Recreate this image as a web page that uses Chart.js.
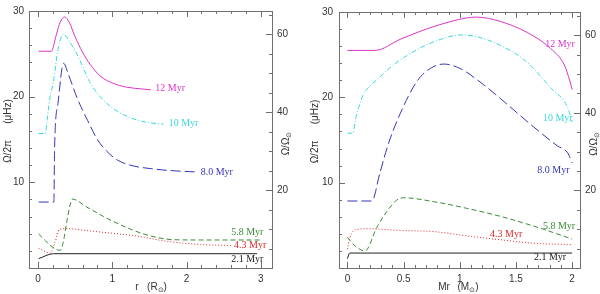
<!DOCTYPE html>
<html>
<head>
<meta charset="utf-8">
<script src="https://cdn.jsdelivr.net/npm/chart.js@4.4.1/dist/chart.umd.min.js"></script>
<style>
html, body { margin: 0; padding: 0; background: #fff; }
#wrap { position: relative; width: 600px; height: 294px; }
.panel { position: absolute; top: 0; width: 300px; height: 294px; }
</style>
</head>
<body>
<div id="wrap">
  <div class="panel" style="left:0"><canvas id="left"></canvas></div>
  <div class="panel" style="left:300px"><canvas id="right"></canvas></div>
</div>
<script>
// ages and curve styles
const ages = ['12 Myr', '10 Myr', '8.0 Myr', '5.8 Myr', '4.3 Myr', '2.1 Myr'];
const ageColors = ['#d936c8', '#3ad8dc', '#3434b8', '#3a8a3a', '#dc2a2a', '#222222'];
const ageDash = [[], [5, 2, 1, 2], [10, 4], [5, 3], [1, 2], []];

// left panel: Omega/2pi (microHz) vs r (Rsun)
const r12  = [0.01, 0.18, 0.25, 0.30, 0.36, 0.42, 0.50, 0.60, 0.70, 0.84, 1.00, 1.20, 1.40, 1.52];
const wr12 = [25.3, 25.3, 27.3, 28.7, 29.3, 28.7, 27.0, 25.2, 23.8, 22.4, 21.6, 21.1, 20.9, 20.8];
const r10  = [0.01, 0.10, 0.12, 0.16, 0.21, 0.27, 0.345, 0.42, 0.53, 0.71, 0.93, 1.20, 1.47, 1.69];
const wr10 = [15.7, 15.7, 17.0, 19.8, 21.8, 25.5, 27.3, 26.5, 24.9, 21.5, 19.2, 17.7, 17.0, 16.8];
const r8   = [0.01, 0.19, 0.215, 0.224, 0.27, 0.345, 0.41, 0.53, 0.67, 0.80, 0.93, 1.07, 1.29, 1.52, 1.74, 2.15];
const wr8  = [7.7, 7.7, 7.7, 13.9, 19.2, 23.9, 22.6, 19.8, 17.2, 15.0, 13.6, 12.6, 11.9, 11.6, 11.4, 11.2];
const r58  = [0.01, 0.10, 0.166, 0.30, 0.345, 0.39, 0.44, 0.46, 0.66, 0.93, 1.20, 1.47, 1.83, 2.19, 3.0];
const wr58 = [3.97, 3.2, 2.63, 2.06, 3.2, 5.5, 7.6, 8.05, 7.1, 5.8, 4.7, 3.85, 3.3, 3.27, 3.27];
const r43  = [0.01, 0.166, 0.23, 0.29, 0.39, 0.62, 0.84, 1.29, 1.74, 2.19, 2.6];
const wr43 = [2.3, 1.75, 3.0, 4.5, 4.6, 4.4, 4.2, 3.77, 3.12, 2.74, 2.63];
const r21  = [0.01, 0.21, 2.95];
const wr21 = [1.1, 1.67, 1.67];

// right panel: Omega/2pi (microHz) vs Mr (Msun)
const m12  = [0, 0.246, 0.47, 0.77, 1.06, 1.15, 1.36, 1.60, 1.81, 1.93, 1.98, 2.0];
const wm12 = [25.5, 25.5, 26.8, 28.3, 29.3, 29.4, 28.9, 27.6, 25.7, 23.8, 21.9, 20.9];
const m10  = [0, 0.05, 0.07, 0.10, 0.14, 0.20, 0.29, 0.41, 0.62, 0.83, 1.00, 1.12, 1.36, 1.60, 1.81, 1.96, 2.0];
const wm10 = [15.8, 15.8, 17.3, 18.8, 20.3, 21.3, 22.4, 23.8, 25.6, 26.8, 27.3, 27.2, 26.1, 24.1, 21.1, 18.8, 17.1];
const m8   = [0, 0.217, 0.29, 0.366, 0.47, 0.62, 0.74, 0.86, 1.00, 1.21, 1.42, 1.66, 1.87, 1.96, 2.0];
const wm8  = [7.85, 7.85, 11.2, 14.6, 18.1, 21.9, 23.4, 23.9, 23.4, 21.5, 19.2, 16.5, 14.3, 13.5, 12.3];
const m58  = [0, 0.05, 0.157, 0.26, 0.35, 0.44, 0.50, 0.77, 1.06, 1.36, 1.66, 2.0];
const wm58 = [3.6, 2.8, 2.0, 4.72, 6.6, 7.97, 8.23, 7.77, 7.0, 6.06, 4.9, 3.4];
const m43  = [0, 0.02, 0.05, 0.10, 0.17, 0.47, 0.77, 1.06, 1.36, 1.66, 2.0];
const wm43 = [2.2, 3.5, 4.3, 4.55, 4.6, 4.4, 4.26, 3.77, 3.31, 2.9, 2.74];
const m21  = [0, 0.02, 2.0];
const wm21 = [1.1, 1.75, 1.75];

// where the age labels sit (data units)
const labRx = [1.58, 1.76, 2.19, 2.60, 2.64, 2.60];
const labRy = [21.0, 16.9, 11.2, 4.15, 2.63, 1.03];
const labMx = [1.76, 1.74, 1.69, 1.74, 1.27, 1.66];
const labMy = [26.2, 17.5, 11.4, 4.83, 3.97, 1.22];

// ticks
const xTicksR = [0, 1, 2, 3];
const xTicksM = [0, 0.5, 1, 1.5, 2];
const yTicks = [10, 20, 30];
const y2Ticks = [20, 40, 60];

const SANS = '"Liberation Sans", Arial, sans-serif';
const SERIF = '"Liberation Serif", "Times New Roman", serif';

function pts(xs, ys) {
  return xs.map((x, i) => ({ x: x, y: ys[i] }));
}

function makeSets(curves) {
  return curves.map((c, i) => ({
    label: ages[i],
    data: pts(c[0], c[1]),
    showLine: true,
    borderColor: ageColors[i],
    borderWidth: 1,
    borderDash: ageDash[i],
    pointRadius: 0,
    cubicInterpolationMode: 'monotone',
    fill: false
  }));
}

// frame with inward ticks on all four sides
const framePlugin = {
  id: 'frame',
  afterDatasetsDraw(chart, args, o) {
    const ctx = chart.ctx, a = chart.chartArea;
    const sx = chart.scales.x, sy = chart.scales.y, s2 = chart.scales.y2;
    ctx.save();
    ctx.strokeStyle = '#707070';
    ctx.lineWidth = 1;
    ctx.strokeRect(Math.round(a.left) + 0.5, Math.round(a.top) + 0.5,
      Math.round(a.right - a.left), Math.round(a.bottom - a.top));
    ctx.beginPath();
    const each = (sc, step, major, fn) => {
      const k0 = Math.ceil(sc.min / step - 1e-6), k1 = Math.floor(sc.max / step + 1e-6);
      for (let k = k0; k <= k1; k++) {
        const v = k * step;
        const isMajor = Math.abs(v / major - Math.round(v / major)) < 1e-6;
        fn(sc.getPixelForValue(v), isMajor ? 6 : 3);
      }
    };
    each(sx, o.xMinor, o.xMajor, (p, len) => {
      p = Math.round(p) + 0.5;
      ctx.moveTo(p, a.bottom); ctx.lineTo(p, a.bottom - len);
      ctx.moveTo(p, a.top); ctx.lineTo(p, a.top + len);
    });
    each(sy, 2, 10, (p, len) => {
      p = Math.round(p) + 0.5;
      ctx.moveTo(a.left, p); ctx.lineTo(a.left + len, p);
    });
    each(s2, 5, 20, (p, len) => {
      p = Math.round(p) + 0.5;
      ctx.moveTo(a.right, p); ctx.lineTo(a.right - len, p);
    });
    ctx.stroke();
    ctx.restore();
  }
};

// age labels next to the curves
const agePlugin = {
  id: 'ageLabels',
  afterDatasetsDraw(chart, args, o) {
    const ctx = chart.ctx;
    ctx.save();
    ctx.font = '10px ' + SERIF;
    ctx.textBaseline = 'middle';
    ctx.textAlign = 'left';
    ages.forEach((t, i) => {
      ctx.fillStyle = ageColors[i];
      ctx.fillText(t, chart.scales.x.getPixelForValue(o.xs[i]), chart.scales.y.getPixelForValue(o.ys[i]));
    });
    ctx.restore();
  }
};

// text made of pieces, some of them subscripts (for the sun symbol)
function drawParts(ctx, parts, cx, cy, rot) {
  ctx.save();
  ctx.translate(cx, cy);
  ctx.rotate(rot);
  ctx.fillStyle = '#333';
  ctx.textBaseline = 'middle';
  ctx.textAlign = 'left';
  let w = 0;
  parts.forEach(p => {
    ctx.font = (p.sub ? '7px ' : '10px ') + SANS;
    w += ctx.measureText(p.t).width;
  });
  let x = -w / 2;
  parts.forEach(p => {
    ctx.font = (p.sub ? '7px ' : '10px ') + SANS;
    ctx.fillText(p.t, x, p.sub ? 3 : 0);
    x += ctx.measureText(p.t).width;
  });
  ctx.restore();
}

const titlePlugin = {
  id: 'axisTitles',
  afterDraw(chart, args, o) {
    const ctx = chart.ctx, a = chart.chartArea;
    const cy = (a.top + a.bottom) / 2;
    // left: Omega/2pi  (muHz)
    drawParts(ctx, [{ t: 'Ω/2π' }], a.left - o.leftOff, cy + 12, -Math.PI / 2);
    drawParts(ctx, [{ t: '(μHz)' }], a.left - o.leftOff, cy - 28, -Math.PI / 2);
    // right: Omega/Omega_sun
    drawParts(ctx, [{ t: 'Ω/Ω' }, { t: '⊙', sub: true }], a.right + o.rightOff, cy + 4, -Math.PI / 2);
    // bottom
    drawParts(ctx, [{ t: o.xName }], o.xNameAt, 287, 0);
    drawParts(ctx, [{ t: '(' + o.xUnit }, { t: '⊙', sub: true }, { t: ')' }], o.xUnitAt, 287, 0);
  }
};

function makeChart(id, curves, labX, labY, xMin, xMax, xTicks, xMinor, xMajor, widths, titles) {
  const tickFont = { family: SANS, size: 10 };
  return new Chart(document.getElementById(id), {
    type: 'scatter',
    data: { datasets: makeSets(curves) },
    options: {
      responsive: true,
      maintainAspectRatio: false,
      animation: false,
      layout: { padding: { top: 6, left: 0, right: 0, bottom: 0 } },
      plugins: {
        legend: { display: false },
        tooltip: { enabled: false },
        frame: { xMinor: xMinor, xMajor: xMajor },
        ageLabels: { xs: labX, ys: labY },
        axisTitles: titles
      },
      scales: {
        x: {
          type: 'linear',
          min: xMin,
          max: xMax,
          grid: { display: false, drawTicks: false },
          border: { display: false },
          afterBuildTicks: s => { s.ticks = xTicks.map(v => ({ value: v })); },
          afterFit: s => { s.height = 26; },
          ticks: { font: tickFont, color: '#333', padding: 5, maxRotation: 0, callback: v => String(v) }
        },
        y: {
          type: 'linear',
          position: 'left',
          min: 0,
          max: 30,
          grid: { display: false, drawTicks: false },
          border: { display: false },
          afterBuildTicks: s => { s.ticks = yTicks.map(v => ({ value: v })); },
          afterFit: s => { s.width = widths[0]; },
          ticks: { font: tickFont, color: '#333', padding: widths[2], callback: v => String(v) }
        },
        y2: {
          type: 'linear',
          position: 'right',
          min: 0,
          max: 66,
          grid: { display: false, drawTicks: false },
          border: { display: false },
          afterBuildTicks: s => { s.ticks = y2Ticks.map(v => ({ value: v })); },
          afterFit: s => { s.width = widths[1]; },
          ticks: { font: tickFont, color: '#333', padding: 5, callback: v => String(v) }
        }
      }
    },
    plugins: [framePlugin, agePlugin, titlePlugin]
  });
}

makeChart('left',
  [[r12, wr12], [r10, wr10], [r8, wr8], [r58, wr58], [r43, wr43], [r21, wr21]],
  labRx, labRy, -0.12, 3.15, xTicksR, 0.2, 1, [29, 28, 5],
  { leftOff: 21, rightOff: 14, xName: 'r', xNameAt: 137, xUnit: 'R', xUnitAt: 157 });

makeChart('right',
  [[m12, wm12], [m10, wm10], [m8, wm8], [m58, wm58], [m43, wm43], [m21, wm21]],
  labMx, labMy, -0.075, 2.07, xTicksM, 0.1, 0.5, [39, 20, 6],
  { leftOff: 24, rightOff: 14, xName: 'Mr', xNameAt: 144, xUnit: 'M', xUnitAt: 168 });
</script>
</body>
</html>
